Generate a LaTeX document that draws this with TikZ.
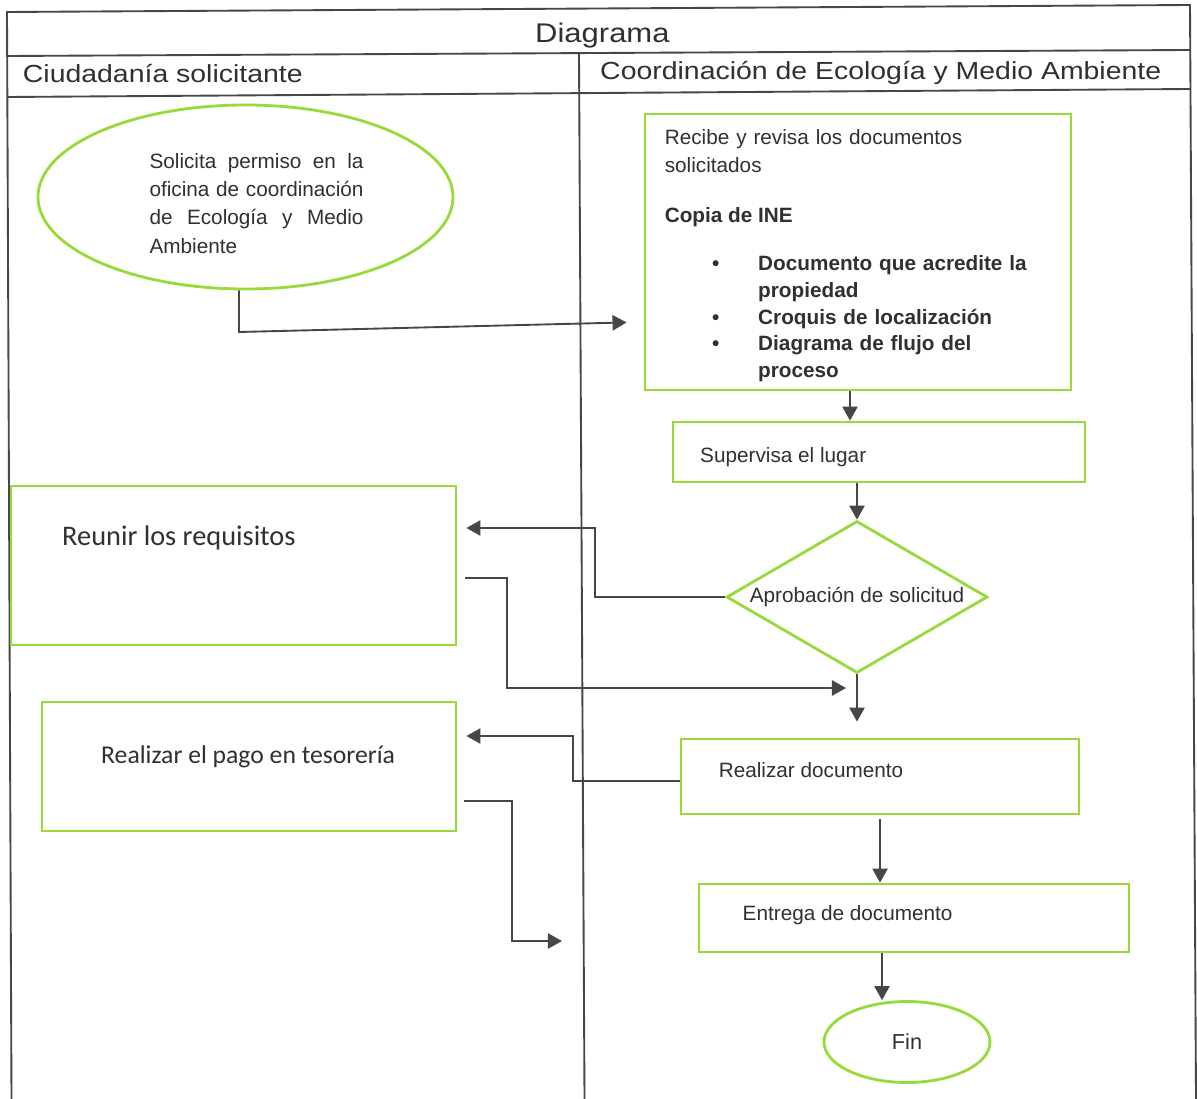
\documentclass[tikz,border=0pt]{standalone}
\usepackage{fontspec}
\setmainfont{Liberation Sans}
\newfontfamily\hdrfont[FakeStretch=1.15]{Liberation Sans}
\newfontfamily\calibfont{Carlito}
\usetikzlibrary{arrows.meta,shapes.geometric,calc}
\definecolor{lgreen}{RGB}{152,218,58}
\definecolor{ink}{RGB}{48,48,48}
\definecolor{arrowgray}{RGB}{70,70,70}
\definecolor{tblgray}{RGB}{70,70,70}
\begin{document}
\begin{tikzpicture}[x=0.03cm,y=-0.03cm,
  gbox/.style={draw=lgreen,line width=2.4pt,rectangle,inner sep=0pt},
  gell/.style={draw=lgreen,line width=2.4pt,ellipse,inner sep=0pt},
  gdia/.style={draw=lgreen,line width=2.4pt,diamond,aspect=1.72,inner sep=0pt,text=ink,font=\fontsize{17.7pt}{21pt}\selectfont},
  btext/.style={text=ink,inner sep=0pt,font=\fontsize{17.7pt}{23.6pt}\selectfont},
  hdr/.style={text=ink,inner sep=0pt,font=\hdrfont\fontsize{21.1pt}{25pt}\selectfont},
  arr/.style={draw=arrowgray,line width=1.6pt,-{Triangle[length=12pt,width=13pt]}},
  tbl/.style={draw=tblgray,line width=1.6pt}]
\fill[white] (0,0) rectangle (1197,1099);
\useasboundingbox (0,0) rectangle (1197,1099);

% table
\draw[tbl] (11.5,1099) -- (7,12) -- (1190,5) -- (1196,1099);
\draw[tbl] (7,56) -- (1190,50);
\draw[tbl] (7,97) -- (1190,89);
\draw[tbl] (579,54) -- (584.5,1099);
\node[hdr, anchor=base west, font=\hdrfont\fontsize{23pt}{27pt}\selectfont] (title) at (535,43) {Diagrama};
\node[hdr, anchor=base west] (lane1) at (22.7,83) {Ciudadanía solicitante};
\node[hdr, anchor=base west] (lane2) at (600,80) {Coordinación de Ecología y Medio Ambiente};

% shapes
\node[gell, minimum width=12.45cm, minimum height=5.52cm] (sol) at (245.5,197) {};
\node[btext, text width=6.42cm, align=justify, anchor=base west,
      font=\fontsize{17.7pt}{23.9pt}\selectfont] (soltxt) at (149.3,169)
  {Solicita permiso en la\linebreak oficina de coordinación\linebreak de Ecología y Medio\linebreak Ambiente};

\node[gbox, minimum width=12.78cm, minimum height=8.28cm] (box1) at (858,252) {};
\node[btext, text width=11cm, align=left, anchor=base west] (b1txt) at (664.6,145)
  {Recibe y revisa los documentos\\solicitados};
\node[btext, anchor=base west, font=\bfseries\fontsize{17.7pt}{23.6pt}\selectfont] (copia) at (664.6,222.7) {Copia de INE};
\node[btext, text width=11cm, align=left, anchor=base west,
      font=\bfseries\fontsize{17.7pt}{22.75pt}\selectfont] (lst) at (712,270.7)
  {\makebox[1.38cm][l]{\textbullet}Documento que acredite la\\
   \hspace*{1.38cm}propiedad\\
   \makebox[1.38cm][l]{\textbullet}Croquis de localización\\
   \makebox[1.38cm][l]{\textbullet}Diagrama de flujo del\\
   \hspace*{1.38cm}proceso};

\node[gbox, minimum width=12.36cm, minimum height=1.8cm] (sup) at (879,452) {};
\node[btext, anchor=base west] (suptxt) at (700,462) {Supervisa el lugar};

\node[gdia, minimum width=7.83cm, minimum height=4.56cm] (dia) at (857,597) {\raisebox{-0.12cm}{Aprobación de solicitud}};

\node[gbox, minimum width=13.35cm, minimum height=4.77cm] (reu) at (233.5,565.5) {};
\node[btext, anchor=base west, font=\calibfont\fontsize{24.2pt}{28pt}\selectfont] (reutxt) at (62,545) {Reunir los requisitos};

\node[gbox, minimum width=12.42cm, minimum height=3.87cm] (pago) at (249,766.5) {};
\node[btext, anchor=base west, font=\calibfont\fontsize{21.9pt}{26pt}\selectfont] (pagotxt) at (101,763.3) {Realizar el pago en tesorería};

\node[gbox, minimum width=11.94cm, minimum height=2.25cm] (rdoc) at (880,776.5) {};
\node[btext, anchor=base west] (rdoctxt) at (718.6,777.7) {Realizar documento};

\node[gbox, minimum width=12.9cm, minimum height=2.04cm] (ent) at (914,918) {};
\node[btext, anchor=base west] (enttxt) at (742.5,920.7) {Entrega de documento};

\node[gell, minimum width=4.98cm, minimum height=2.43cm, text=ink, font=\fontsize{18.5pt}{21pt}\selectfont] (fin) at (907,1042) {Fin};

\coordinate (e1) at (846,688);
\coordinate (e2) at (562,941);

% connectors
\draw[arr, shorten >=0.51cm] ($(sol.south)+(-6.5,0)$) -- (239,332) -- (box1.west |- 0,322);
\draw[arr] (box1.south -| 850,0) -- (sup.north -| 850,0);
\draw[arr] (dia.north |- sup.south) -- (dia.north);
\draw[arr, shorten >=0.27cm] (dia.west) -| (595,528) -- (reu.east |- 0,528);
\draw[arr] ($(reu.east |- 0,578)+(8,0)$) -| (507,688) -- (e1);
\draw[arr, shorten >=0.48cm] (dia.south) -- (dia.south |- rdoc.north);
\draw[arr, shorten >=0.27cm] (rdoc.west |- 0,781) -| (573,736) -- (pago.east |- 0,736);
\draw[arr] ($(pago.east |- 0,801)+(7,0)$) -| (512,941) -- (e2);
\draw[arr, shorten <=0.12cm] (rdoc.south -| 880,0) -- (ent.north -| 880,0);
\draw[arr] (ent.south -| 882,0) -- (fin.north -| 882,0);
\end{tikzpicture}
\end{document}
